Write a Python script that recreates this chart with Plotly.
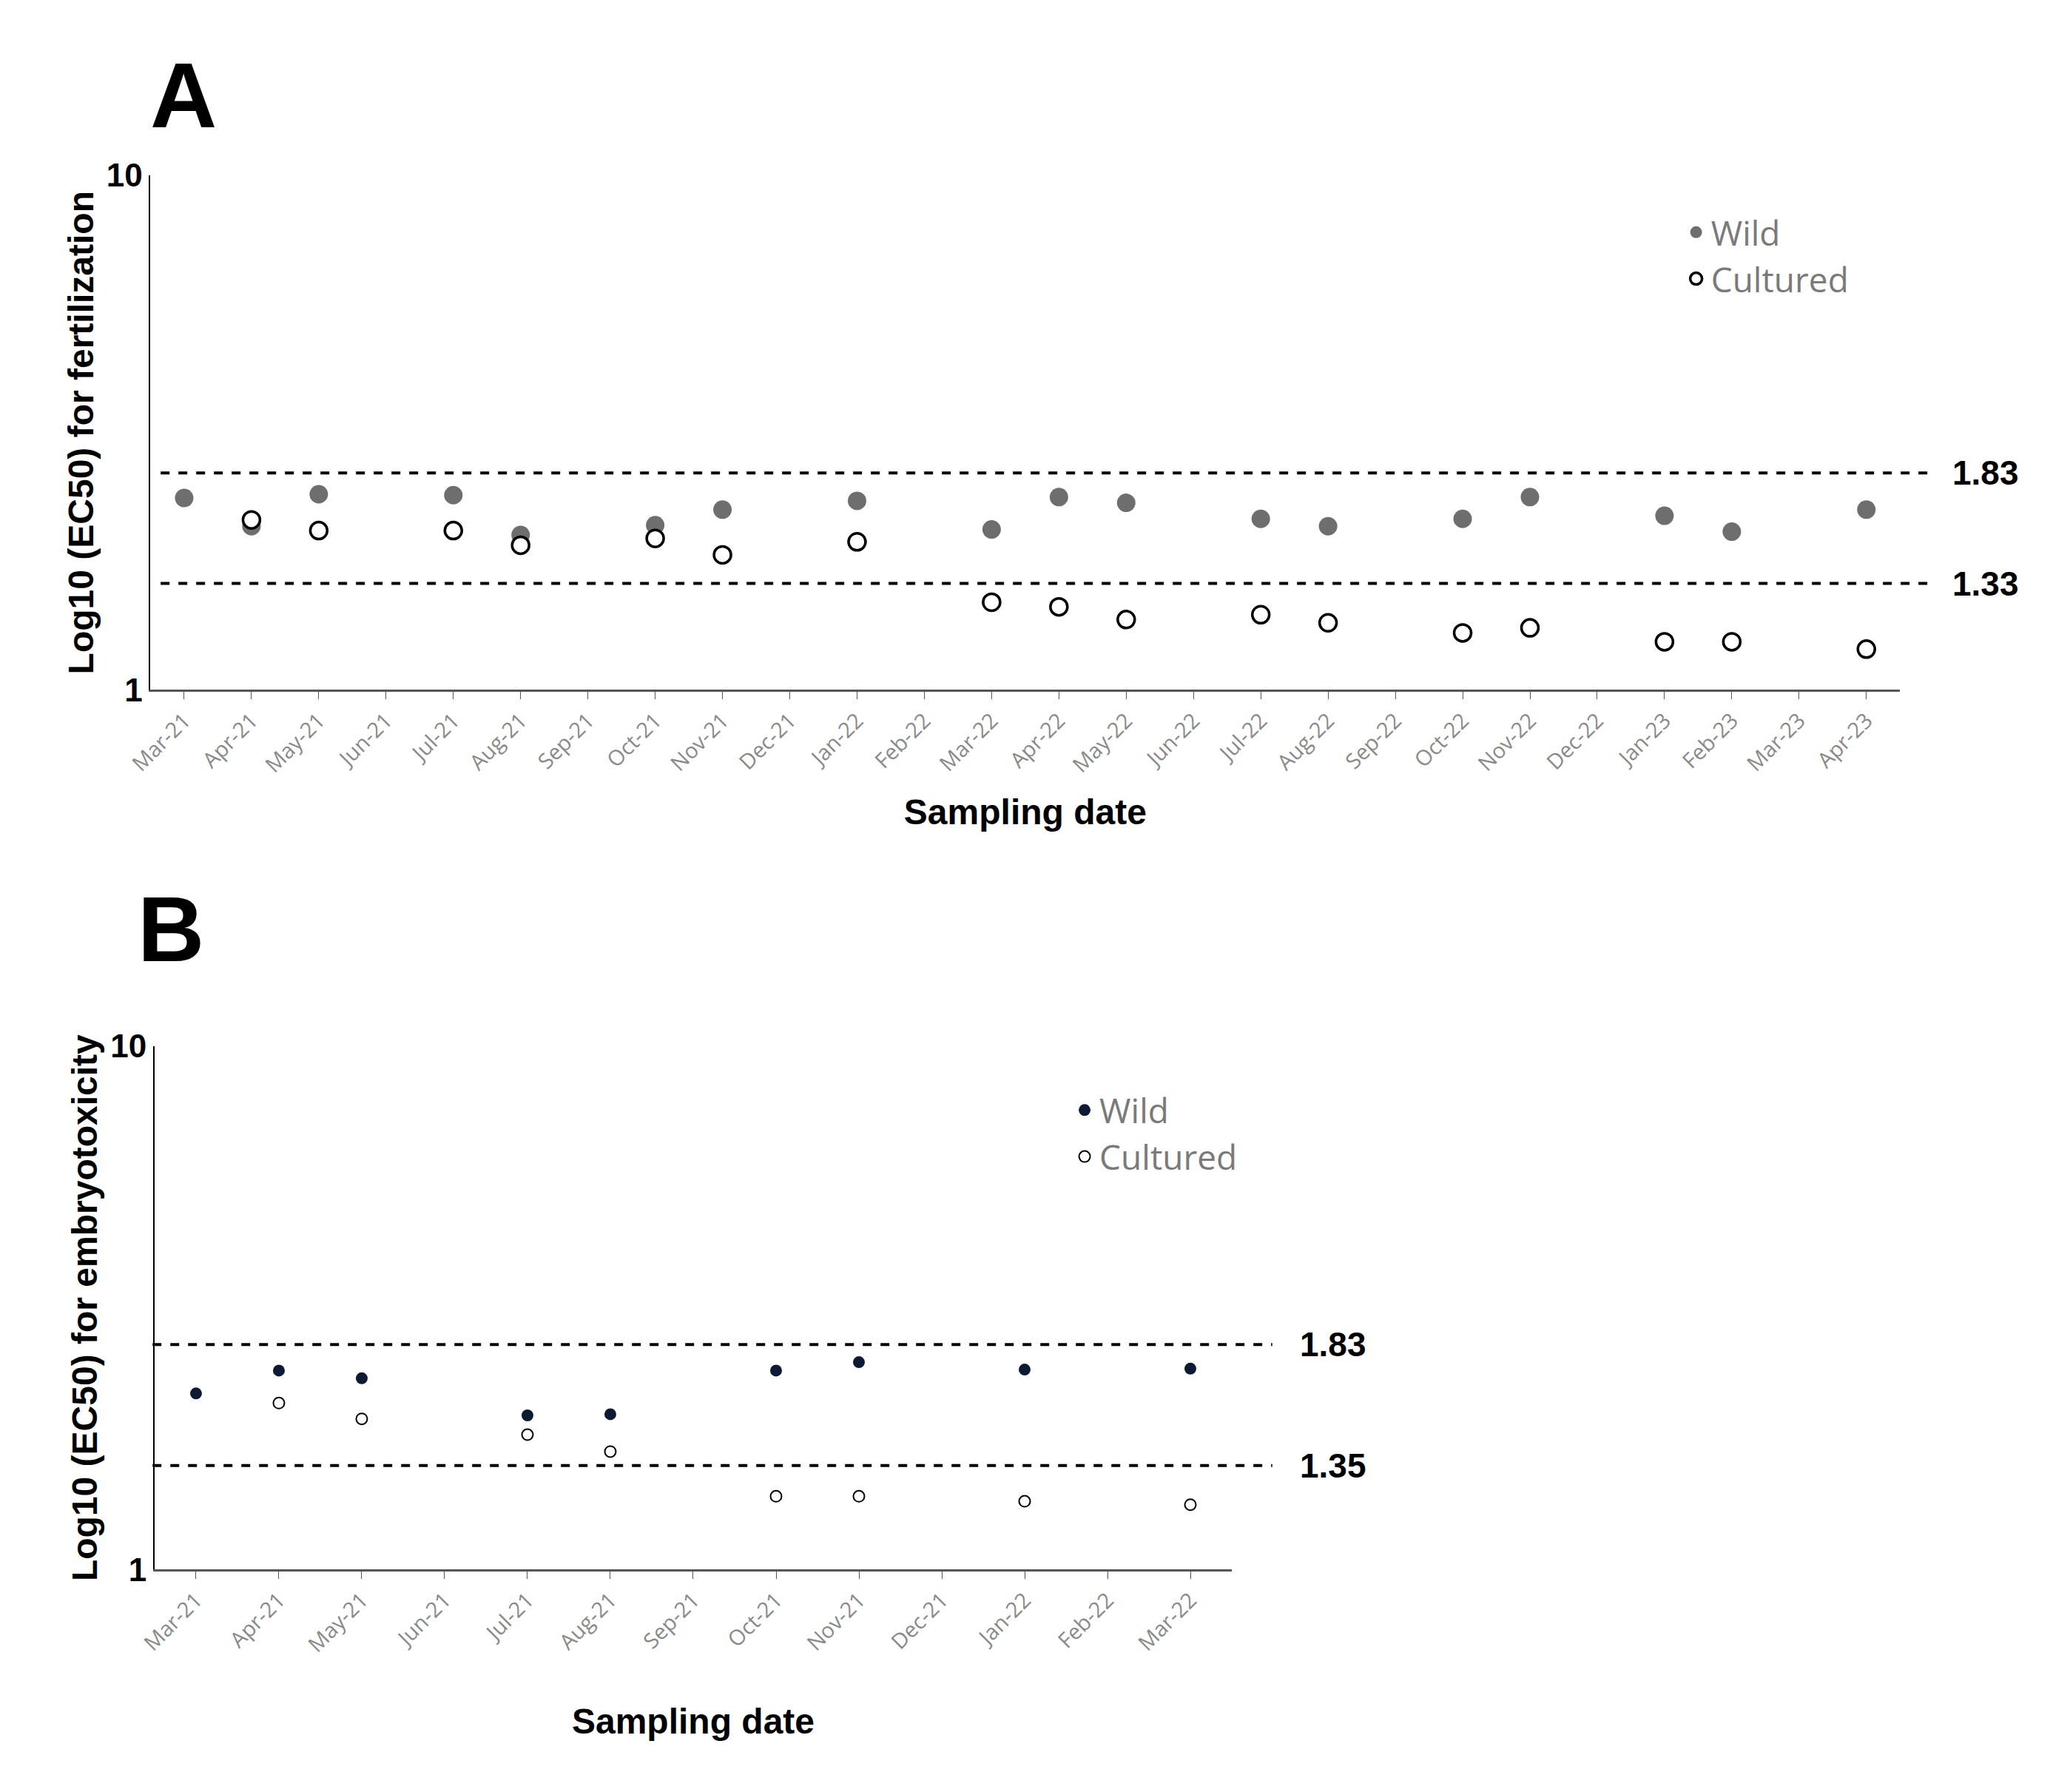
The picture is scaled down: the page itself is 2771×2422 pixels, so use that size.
import math
import plotly.graph_objects as go

months_a = ["Mar-21", "Apr-21", "May-21", "Jun-21", "Jul-21", "Aug-21", "Sep-21", "Oct-21", "Nov-21",
            "Dec-21", "Jan-22", "Feb-22", "Mar-22", "Apr-22", "May-22", "Jun-22", "Jul-22", "Aug-22",
            "Sep-22", "Oct-22", "Nov-22", "Dec-22", "Jan-23", "Feb-23", "Mar-23", "Apr-23"]
wild_a_x = ["Mar-21", "Apr-21", "May-21", "Jul-21", "Aug-21", "Oct-21", "Nov-21", "Jan-22", "Mar-22",
            "Apr-22", "May-22", "Jul-22", "Aug-22", "Oct-22", "Nov-22", "Jan-23", "Feb-23", "Apr-23"]
wild_a_y = [2.36, 2.08, 2.40, 2.39, 2.00, 2.09, 2.24, 2.33, 2.05, 2.37, 2.31, 2.15, 2.08, 2.15, 2.37, 2.18, 2.03, 2.24]
cult_a_x = ["Apr-21", "May-21", "Jul-21", "Aug-21", "Oct-21", "Nov-21", "Jan-22", "Mar-22", "Apr-22",
            "May-22", "Jul-22", "Aug-22", "Oct-22", "Nov-22", "Jan-23", "Feb-23", "Apr-23"]
cult_a_y = [2.14, 2.04, 2.04, 1.91, 1.97, 1.83, 1.94, 1.48, 1.45, 1.37, 1.40, 1.35, 1.29, 1.32, 1.24, 1.24, 1.20]
lines_a = [2.64, 1.61]
labels_a = ["1.83", "1.33"]

months_b = months_a[:13]
wild_b_x = ["Mar-21", "Apr-21", "May-21", "Jul-21", "Aug-21", "Oct-21", "Nov-21", "Jan-22", "Mar-22"]
wild_b_y = [2.17, 2.40, 2.32, 1.97, 1.98, 2.40, 2.49, 2.41, 2.42]
cult_b_x = ["Apr-21", "May-21", "Jul-21", "Aug-21", "Oct-21", "Nov-21", "Jan-22", "Mar-22"]
cult_b_y = [2.08, 1.94, 1.81, 1.68, 1.38, 1.38, 1.35, 1.33]
lines_b = [2.69, 1.58]
labels_b = ["1.83", "1.35"]

W, H = 2771, 2422
fig = go.Figure()
fig.add_trace(go.Scatter(x=wild_a_x, y=wild_a_y, mode="markers", name="Wild",
                         marker=dict(size=25, color="#6e6e6e"), xaxis="x", yaxis="y", legend="legend"))
fig.add_trace(go.Scatter(x=cult_a_x, y=cult_a_y, mode="markers", name="Cultured",
                         marker=dict(size=23, color="white", line=dict(color="black", width=3.5)),
                         xaxis="x", yaxis="y", legend="legend"))
fig.add_trace(go.Scatter(x=wild_b_x, y=wild_b_y, mode="markers", name="Wild",
                         marker=dict(size=16, color="#0d1a33"), xaxis="x2", yaxis="y2", legend="legend2"))
fig.add_trace(go.Scatter(x=cult_b_x, y=cult_b_y, mode="markers", name="Cultured",
                         marker=dict(size=15, color="white", line=dict(color="black", width=2)),
                         xaxis="x2", yaxis="y2", legend="legend2"))

tickfont = dict(family="Open Sans", size=29, color="#8a8a8a")
yfont = dict(family="Arial", size=44, color="black", weight="bold")
titlefont = dict(family="Arial", size=48, color="black", weight="bold")

common_x = dict(type="category", tickangle=-45, tickfont=tickfont, showline=True, linecolor="#555",
                linewidth=3, ticks="outside", ticklen=10, tickcolor="#555", showgrid=False, zeroline=False)
common_y = dict(type="log", range=[0, 1], tickvals=[1, 10], ticktext=["1", "10"], tickfont=yfont,
                showline=True, linecolor="black", linewidth=2, showgrid=False, zeroline=False, ticks="")

legfont = dict(family="Open Sans", size=46, color="#7a7a7a")
fig.update_layout(
    width=W, height=H, plot_bgcolor="white", paper_bgcolor="white",
    margin=dict(l=0, r=0, t=0, b=0),
    xaxis=dict(common_x, domain=[0.059, 0.923], anchor="y", categoryorder="array", categoryarray=months_a,
               range=[-0.5, 25.5],
               title=dict(text="Sampling date", font=titlefont, standoff=30)),
    yaxis=dict(common_y, domain=[0.621, 0.914], anchor="x",
               title=dict(text="Log10 (EC50) for fertilization", font=titlefont, standoff=2)),
    xaxis2=dict(common_x, domain=[0.061, 0.593], anchor="y2", categoryorder="array", categoryarray=months_b,
                range=[-0.5, 12.5],
                title=dict(text="Sampling date", font=titlefont, standoff=70)),
    yaxis2=dict(common_y, domain=[0.120, 0.418], anchor="x2",
                title=dict(text="Log10 (EC50) for embryotoxicity", font=titlefont, standoff=2)),
    legend=dict(x=0.815, y=0.897, xanchor="left", yanchor="top", font=legfont,
                bgcolor="rgba(0,0,0,0)", tracegroupgap=10),
    legend2=dict(x=0.513, y=0.397, xanchor="left", yanchor="top", font=legfont,
                 bgcolor="rgba(0,0,0,0)"),
)

for v, lab in zip(lines_a, labels_a):
    fig.add_shape(type="line", xref="paper", yref="y", x0=0.064, x1=0.938, y0=v, y1=v,
                  line=dict(color="black", width=4, dash="dash"))
    fig.add_annotation(xref="paper", yref="y", x=0.948, y=math.log10(v), text=lab, showarrow=False,
                       xanchor="left", font=dict(family="Arial", size=46, color="black", weight="bold"))
for v, lab in zip(lines_b, labels_b):
    fig.add_shape(type="line", xref="paper", yref="y2", x0=0.060, x1=0.613, y0=v, y1=v,
                  line=dict(color="black", width=4, dash="dash"))
    fig.add_annotation(xref="paper", yref="y2", x=0.626, y=math.log10(v), text=lab, showarrow=False,
                       xanchor="left", font=dict(family="Arial", size=46, color="black", weight="bold"))

fig.add_annotation(xref="paper", yref="paper", x=0.058, y=0.990, text="A", showarrow=False, xanchor="left",
                   yanchor="top", font=dict(family="Arial", size=125, color="black", weight="bold"))
fig.add_annotation(xref="paper", yref="paper", x=0.052, y=0.515, text="B", showarrow=False, xanchor="left",
                   yanchor="top", font=dict(family="Arial", size=125, color="black", weight="bold"))

fig.write_html("out.html")
